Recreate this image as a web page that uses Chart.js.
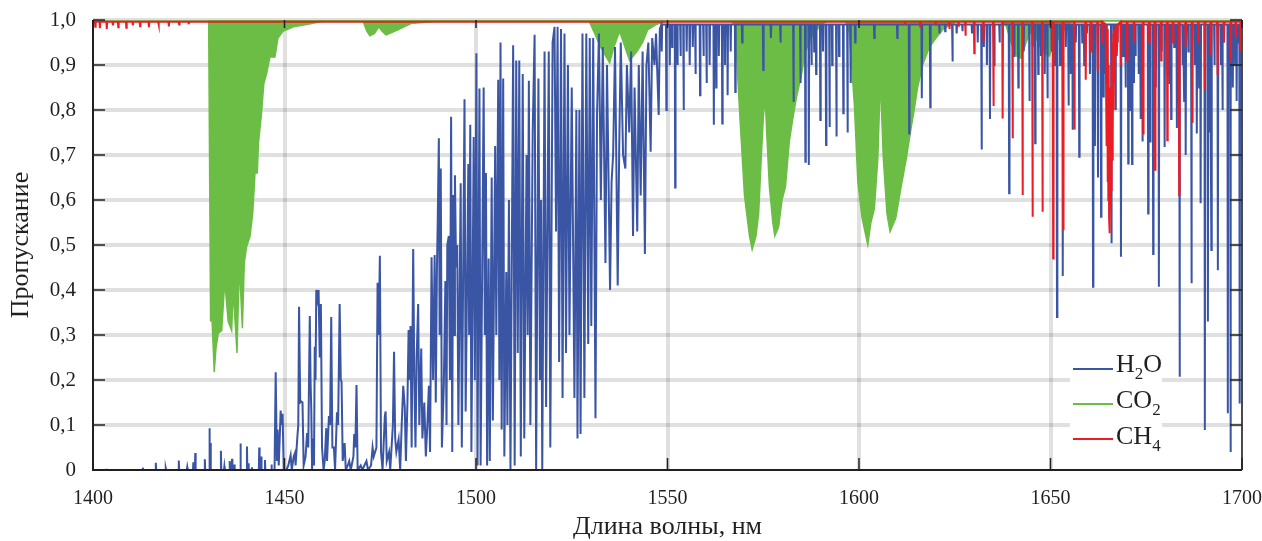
<!DOCTYPE html>
<html>
<head>
<meta charset="utf-8">
<script src="https://cdn.jsdelivr.net/npm/chart.js@4"></script>
<style>
  body { margin: 0; background: #fff; }
  #wrap { position: relative; width: 1262px; height: 541px; }
  #legend { position: absolute; left: 1070px; top: 350px; width: 92px; height: 100px; background: #fff;
            font-family: 'Liberation Serif', 'Times New Roman', serif; font-size: 26px; color: #231f20; }
  .row { position: absolute; left: 0; height: 26px; line-height: 26px; white-space: nowrap; }
  .sw { position: absolute; left: 3px; width: 40px; height: 2px; }
  .txt { position: absolute; left: 46px; top: 0; }
  sub { font-size: 17px; vertical-align: -7px; line-height: 0; }
</style>
</head>
<body>
<div id="wrap">
  <canvas id="chart"></canvas>
  <div id="legend">
    <div class="row" style="top:1px"><span class="sw" style="top:17px;background:#3a55a4"></span><span class="txt">H<sub>2</sub>O</span></div>
    <div class="row" style="top:37px"><span class="sw" style="top:16px;background:#6cbd45"></span><span class="txt">CO<sub>2</sub></span></div>
    <div class="row" style="top:73px"><span class="sw" style="top:15px;background:#ec1c24"></span><span class="txt">CH<sub>4</sub></span></div>
  </div>
</div>
<script>
var xTicks = [1400, 1450, 1500, 1550, 1600, 1650, 1700];
var yTicks = [0, 0.1, 0.2, 0.3, 0.4, 0.5, 0.6, 0.7, 0.8, 0.9, 1.0];

// H2O: weak lines rising from the opaque floor, 1400-1447 nm  [nm, T]
var h2oFloorLines = [[1403.5,0.003],[1413.0,0.005],[1416.4,0.016],[1419.0,0.004],[1422.4,0.021],[1424.6,0.006],
  [1426.2,0.017],[1426.7,0.038],[1429.2,0.024],[1430.4,0.093],[1430.7,0.06],[1433.4,0.043],[1434.3,0.008],
  [1435.7,0.02],[1436.3,0.025],[1436.9,0.012],[1438.5,0.059],[1440.2,0.052],[1440.6,0.015],[1441.5,0.006],
  [1443.4,0.05],[1443.9,0.03],[1444.9,0.022],[1446.6,0.012]];

// H2O: dense line forest, 1447-1548 nm, traced point by point  [nm, T]
var h2oForest = [[1447.4,0],[1447.7,0.217],[1448.0,0.02],[1448.2,0.09],[1448.5,0.01],[1449.0,0.132],[1449.2,0.1],
  [1449.5,0.125],[1449.8,0],[1450.5,0],[1451.0,0.01],[1451.6,0.033],[1451.9,0],[1452.4,0.03],[1452.7,0.037],
  [1452.9,0.01],[1453.3,0.067],[1453.6,0.1],[1453.8,0.363],[1454.1,0.15],[1454.4,0.152],[1454.7,0.15],[1455.0,0.01],
  [1455.5,0.03],[1455.9,0.082],[1456.2,0.05],[1456.6,0.342],[1456.8,0.2],[1457.0,0.13],[1457.2,0],[1457.5,0.07],
  [1457.7,0.01],[1457.9,0.274],[1458.1,0.2],[1458.3,0.40],[1458.6,0.38],[1458.9,0.40],[1459.2,0.25],[1459.5,0.369],
  [1459.8,0.05],[1460.2,0],[1460.5,0.02],[1460.9,0.093],[1461.1,0.02],[1461.6,0.12],[1461.9,0.1],[1462.2,0.34],
  [1462.5,0.05],[1462.9,0.05],[1463.2,0],[1463.7,0.128],[1464.0,0.1],[1464.4,0.369],[1464.7,0.2],[1464.9,0.196],
  [1465.2,0.02],[1465.7,0.06],[1466.0,0],[1466.5,0.01],[1466.9,0.02],[1467.3,0],[1468.0,0.03],[1468.2,0.08],
  [1468.5,0.05],[1468.8,0.189],[1469.1,0],[1469.9,0.01],[1470.3,0],[1471.4,0.02],[1471.8,0],[1472.6,0.01],
  [1473.0,0.05],[1473.3,0.03],[1474.0,0.05],[1474.3,0.416],[1474.6,0.3],[1474.9,0.476],[1475.2,0.04],[1475.6,0],
  [1476.2,0.12],[1476.4,0.13],[1476.7,0.02],[1477.3,0.04],[1477.6,0],[1478.3,0.10],[1478.6,0.263],[1478.9,0.07],
  [1479.2,0.04],[1479.8,0.068],[1480.2,0],[1480.6,0.1],[1481.0,0.187],[1481.4,0.14],[1481.7,0.02],[1482.1,0.15],
  [1482.4,0.311],[1482.7,0.2],[1482.9,0.32],[1483.2,0.05],[1483.6,0.491],[1483.9,0.2],[1484.2,0.05],[1484.5,0.25],
  [1484.9,0.369],[1485.2,0.1],[1485.7,0.27],[1486.0,0.07],[1486.5,0.15],[1486.9,0.03],[1487.3,0.1],[1487.7,0.187],
  [1488.0,0.04],[1488.4,0.473],[1488.8,0.2],[1489.2,0.478],[1489.5,0.15],[1489.8,0.45],[1490.0,0.548],[1490.3,0.737],
  [1490.5,0.3],[1490.8,0.67],[1491.1,0.05],[1491.6,0.19],[1492.0,0.42],[1492.3,0.1],[1492.5,0.5],[1492.9,0.52],
  [1493.2,0.2],[1493.5,0.785],[1493.8,0.04],[1494.0,0.611],[1494.3,0.3],[1494.5,0.655],[1494.8,0.45],[1495.1,0.50],
  [1495.4,0.1],[1496.0,0.637],[1496.3,0.05],[1497.0,0.824],[1497.3,0.13],[1498.0,0.68],[1498.2,0.3],[1498.5,0.767],
  [1498.8,0.04],[1499.4,0.74],[1499.7,0.2],[1500.1,0.926],[1500.4,0.01],[1500.9,0.848],[1501.2,0.01],[1502.0,0.85],
  [1502.3,0.3],[1502.6,0.66],[1502.9,0.01],[1503.3,0.47],[1503.6,0.02],[1504.1,0.65],[1504.4,0.11],[1505.0,0.72],
  [1505.3,0.3],[1505.8,0.867],[1506.1,0.2],[1506.4,0.95],[1506.7,0.09],[1507.1,0.87],[1507.4,0.03],[1507.9,0.44],
  [1508.2,0.1],[1508.6,0.6],[1509.0,0],[1509.7,0.944],[1510.1,0.01],[1510.5,0.91],[1510.9,0.26],[1511.3,0.91],
  [1511.7,0.03],[1512.2,0.88],[1512.6,0.07],[1513.2,0.7],[1513.5,0.3],[1513.8,0.865],[1514.2,0.10],[1514.8,0.75],
  [1515.3,0.967],[1515.7,0],[1516.3,0.87],[1516.7,0.2],[1517.0,0.6],[1517.3,0],[1517.9,0.93],[1518.3,0.14],
  [1519.0,0.93],[1519.4,0.05],[1520.0,0.95],[1520.5,0.985],[1520.9,0.53],[1521.3,0.985],[1521.7,0.24],[1522.2,0.98],
  [1522.6,0.16],[1523.1,0.97],[1523.5,0.26],[1524.0,0.9],[1524.4,0.3],[1525.0,0.85],[1525.7,0.16],[1526.2,0.8],
  [1526.5,0.07],[1527.0,0.8],[1527.3,0.08],[1527.8,0.97],[1528.3,0.16],[1528.8,0.97],[1529.3,0.28],[1529.7,0.96],
  [1530.1,0.32],[1530.6,0.96],[1531.2,0.115],[1531.6,0.79],[1532.1,0.97],[1532.6,0.6],[1533.1,0.94],[1533.8,0.46],
  [1534.2,0.9],[1535.0,0.40],[1535.4,0.64],[1535.8,0.7],[1536.3,0.94],[1537.0,0.41],[1537.4,0.72],[1537.8,0.95],
  [1538.4,0.7],[1539.0,0.67],[1539.4,0.9],[1540.0,0.75],[1540.5,0.93],[1541.0,0.52],[1541.4,0.85],[1542.1,0.53],
  [1542.5,0.9],[1543.0,0.61],[1543.5,0.93],[1544.1,0.48],[1544.5,0.9],[1545.0,0.95],[1545.6,0.707],[1546.0,0.96],
  [1546.6,0.9],[1547.0,0.97],[1547.7,0.789],[1548.0,0.98]];

// H2O: lines dipping from the clear baseline, 1548-1700 nm  [nm, T]
var h2oDips = [[1548.5,0.93],[1549.7,0.80],[1550.6,0.9],[1551.2,0.94],[1552.0,0.628],[1552.6,0.9],[1553.4,0.92],
  [1554.2,0.80],[1555.0,0.93],[1555.8,0.9],[1556.6,0.94],[1557.3,0.88],[1558.5,0.833],[1559.4,0.92],[1560.2,0.86],
  [1561.0,0.9],[1562.1,0.767],[1562.7,0.85],[1563.4,0.92],[1564.3,0.77],[1565.0,0.9],[1565.7,0.833],[1566.5,0.93],
  [1567.7,0.84],[1569.5,0.95],[1575.0,0.889],[1577.0,0.96],[1579.5,0.95],[1582.9,0.818],[1584.7,0.86],[1586.0,0.685],
  [1586.9,0.678],[1587.6,0.9],[1588.3,0.93],[1588.8,0.88],[1589.9,0.778],[1590.6,0.93],[1591.4,0.722],[1592.3,0.762],
  [1593.0,0.9],[1594.1,0.741],[1594.8,0.92],[1595.9,0.793],[1597.0,0.75],[1597.8,0.86],[1599.0,0.95],[1604.0,0.96],
  [1610.0,0.96],[1613.1,0.748],[1616.4,0.826],[1618.6,0.806],[1621.0,0.97],[1622.5,0.975],[1624.4,0.908],
  [1625.5,0.97],[1627.0,0.975],[1629.5,0.97],[1631.0,0.95],[1632.0,0.712],[1632.6,0.94],[1633.4,0.9],[1634.2,0.78],
  [1635.3,0.9],[1636.7,0.95],[1639.2,0.615],[1640.5,0.92],[1641.6,0.85],[1643.0,0.93],[1644.5,0.82],[1645.3,0.94],
  [1646.0,0.726],[1646.8,0.88],[1647.5,0.92],[1648.5,0.88],[1649.2,0.826],[1650.3,0.93],[1651.0,0.9],[1651.7,0.34],
  [1652.5,0.9],[1653.2,0.431],[1654.0,0.94],[1654.7,0.81],[1655.3,0.88],[1655.8,0.756],[1656.6,0.95],[1657.5,0.696],
  [1658.3,0.95],[1658.8,0.9],[1659.5,0.97],[1660.3,0.88],[1661.1,0.407],[1661.6,0.72],[1662.4,0.65],[1663.2,0.563],
  [1663.8,0.83],[1664.2,0.88],[1664.6,0.9],[1665.9,0.504],[1666.6,0.93],[1667.0,0.8],[1667.5,0.95],[1668.4,0.474],
  [1669.0,0.92],[1669.6,0.85],[1670.3,0.681],[1670.8,0.8],[1671.3,0.68],[1671.8,0.86],[1672.2,0.92],[1673.0,0.88],
  [1673.5,0.78],[1674.0,0.73],[1675.5,0.57],[1676.0,0.73],[1676.8,0.48],[1677.5,0.85],[1678.3,0.407],[1679.0,0.93],
  [1679.8,0.718],[1680.5,0.88],[1681.0,0.86],[1681.5,0.78],[1682.3,0.94],[1683.0,0.76],[1683.7,0.207],[1684.5,0.9],
  [1684.9,0.82],[1685.3,0.7],[1686.0,0.93],[1686.8,0.415],[1687.6,0.9],[1688.2,0.748],[1688.8,0.85],[1689.2,0.593],
  [1690.3,0.089],[1691.1,0.33],[1691.6,0.75],[1692.0,0.489],[1692.8,0.9],[1693.7,0.444],[1694.5,0.9],[1694.9,0.8],
  [1695.2,0.95],[1696.3,0.126],[1697.0,0.04],[1697.6,0.85],[1698.2,0.9],[1698.6,0.82],[1699.0,0.95],[1699.4,0.148],
  [1699.8,0.9]];

// CO2: lower edge of the absorption bands (filled up to T = 1)  [nm, T]
var co2Edge = [[1400,1],[1430.2,1],[1430.5,0.6],[1430.7,0.33],[1430.9,0.55],[1431.1,0.33],[1431.65,0.218],
  [1432.1,0.27],[1432.7,0.304],[1433.6,0.31],[1434.4,0.42],[1435.3,0.33],[1436.2,0.31],[1436.6,0.40],[1437.6,0.26],
  [1438.2,0.46],[1439.0,0.315],[1439.5,0.46],[1440.1,0.496],[1441.0,0.52],[1441.7,0.57],[1442.3,0.66],[1442.9,0.66],
  [1443.2,0.726],[1444.0,0.793],[1444.6,0.859],[1445.3,0.88],[1446.2,0.918],[1447.5,0.918],[1448.3,0.96],
  [1449.6,0.975],[1452.3,0.985],[1455.8,0.99],[1460,0.997],[1470.5,0.997],[1471.5,0.975],[1472.3,0.965],
  [1473.5,0.97],[1474.6,0.985],[1475.5,0.975],[1476.5,0.967],[1478,0.972],[1480,0.98],[1483,0.992],[1490,0.998],
  [1529.5,0.998],[1531,0.97],[1532.5,0.94],[1534.9,0.905],[1536,0.94],[1537.5,0.975],[1538.5,0.95],[1540.1,0.91],
  [1542,0.93],[1543.5,0.95],[1544.8,0.978],[1547,0.99],[1550,0.998],[1566.5,0.998],[1567.5,0.99],[1568.0,0.93],
  [1568.8,0.8],[1570.1,0.61],[1571.4,0.52],[1572.1,0.49],[1573.1,0.52],[1573.8,0.57],[1574.4,0.68],[1575.0,0.78],
  [1575.5,0.83],[1575.9,0.75],[1576.6,0.63],[1577.5,0.55],[1578.0,0.52],[1579.0,0.54],[1579.9,0.6],[1580.8,0.63],
  [1581.8,0.73],[1582.7,0.78],[1583.7,0.83],[1584.9,0.875],[1586.0,0.93],[1587.5,0.96],[1590,0.99],[1592,0.998],
  [1596.5,0.998],[1597.5,0.97],[1598.8,0.81],[1599.7,0.64],[1600.8,0.56],[1602.3,0.50],[1603.1,0.55],[1604.0,0.58],
  [1604.9,0.69],[1605.6,0.87],[1606.3,0.70],[1607.3,0.57],[1608.1,0.53],[1609.6,0.56],[1611.0,0.63],[1612.3,0.69],
  [1613.6,0.76],[1614.4,0.80],[1615.3,0.85],[1616.6,0.90],[1618.4,0.94],[1620.1,0.96],[1622,0.98],[1624,0.99],
  [1626,0.998],[1637.5,0.998],[1638.5,0.985],[1639.7,0.95],[1641.1,0.92],[1642.3,0.915],[1643.6,0.95],
  [1644.9,0.975],[1646.2,0.96],[1647.9,0.93],[1649.7,0.92],[1651.0,0.95],[1652.3,0.96],[1654.0,0.985],
  [1656,0.998],[1700,0.998]];

// CH4: single lines dipping from the baseline  [nm, T]
var ch4Dips = [[1400.6,0.985],[1401.8,0.982],[1403.6,0.98],[1405.2,0.988],[1406.6,0.984],[1408.7,0.983],
  [1410.4,0.988],[1412.3,0.986],[1414.6,0.984],[1417.1,0.99],[1419.8,0.986],[1422.5,0.99],[1425.0,0.991],
  [1612.0,0.99],[1616.0,0.985],[1620.0,0.988],[1623.6,0.98],[1626.0,0.985],[1627.8,0.965],[1630.1,0.926],
  [1632.5,0.95],[1635.1,0.809],[1637.5,0.781],[1640.1,0.737],[1642.7,0.611],[1645.3,0.563],[1647.9,0.574],
  [1650.7,0.47],[1653.3,0.535],[1656.2,0.759],[1659.2,0.867],[1660.6,0.93],[1662.3,0.885],[1663.5,0.95],
  [1668.4,0.9],[1670.0,0.91],[1671.8,0.95],[1674.2,0.748],[1675.8,0.95],[1677.3,0.667],[1678.9,0.91],
  [1680.5,0.733],[1682.0,0.95],[1683.6,0.611],[1685.3,0.94],[1687.0,0.774],[1688.6,0.95],[1690.3,0.844],
  [1691.9,0.92],[1693.6,0.878],[1695.3,0.95],[1697.1,0.908],[1698.4,0.96],[1699.7,0.93]];

// CH4: Q-branch near 1666 nm, traced point by point  [nm, T]
var ch4QBranch = [[1664.4,0.99],[1664.5,0.86],[1664.6,0.99],[1664.7,0.72],[1664.8,0.98],[1664.9,0.64],[1665.0,0.97],
  [1665.1,0.60],[1665.2,0.9],[1665.3,0.56],[1665.4,0.85],[1665.5,0.526],[1665.6,0.8],[1665.7,0.58],[1665.8,0.85],
  [1665.9,0.62],[1666.0,0.9],[1666.1,0.69],[1666.2,0.95],[1666.3,0.75],[1666.4,0.97],[1666.5,0.8],[1666.6,0.98],
  [1666.8,0.86],[1667.0,0.99],[1667.3,0.92],[1667.6,0.99]];

var h2oFloor = 0, h2oTop = 0.99, ch4Top = 0.996;

function spikes(list, base, half) {
  var out = [];
  list.forEach(function (p) {
    out.push({x: p[0] - half, y: base}, {x: p[0], y: p[1]}, {x: p[0] + half, y: base});
  });
  return out;
}
function pts(list) { return list.map(function (p) { return {x: p[0], y: p[1]}; }); }
function byX(a, b) { return a.x - b.x; }

var h2oData = [{x: 1400, y: h2oFloor}]
  .concat(spikes(h2oFloorLines, h2oFloor, 0.1))
  .concat(pts(h2oForest))
  .concat(spikes(h2oDips, h2oTop, 0.1).concat([{x: 1700, y: h2oTop}]).sort(byX));

var ch4Data = [{x: 1400, y: ch4Top}, {x: 1700, y: ch4Top}]
  .concat(spikes(ch4Dips, ch4Top, 0.1))
  .concat(pts(ch4QBranch))
  .sort(byX);

var co2Data = pts(co2Edge);

var ink = '#231f20';
var serif = "'Liberation Serif', 'Times New Roman', serif";

var frame = {
  id: 'frame',
  afterDatasetsDraw: function (chart) {
    var ctx = chart.ctx, a = chart.chartArea, x = chart.scales.x, y = chart.scales.y;
    ctx.save();
    ctx.strokeStyle = ink;
    ctx.lineWidth = 2;
    ctx.beginPath();
    ctx.moveTo(a.left, a.top); ctx.lineTo(a.left, a.bottom); ctx.lineTo(a.right, a.bottom);
    ctx.stroke();
    ctx.strokeStyle = '#4a4a4a';
    ctx.beginPath();
    ctx.moveTo(a.right, a.bottom); ctx.lineTo(a.right, a.top);
    ctx.stroke();
    ctx.strokeStyle = ink;
    ctx.lineWidth = 1.5;
    ctx.beginPath();
    yTicks.forEach(function (v) {
      var py = y.getPixelForValue(v);
      ctx.moveTo(a.left, py); ctx.lineTo(a.left + 12, py);
      ctx.moveTo(a.right, py); ctx.lineTo(a.right - 12, py);
    });
    xTicks.forEach(function (v) {
      var px = x.getPixelForValue(v);
      ctx.moveTo(px, a.bottom); ctx.lineTo(px, a.bottom - 12);
      ctx.moveTo(px, a.top); ctx.lineTo(px, a.top + 8);
    });
    ctx.stroke();
    ctx.restore();
  }
};

var gridColor = 'rgba(0,0,0,0.12)';

new Chart(document.getElementById('chart').getContext('2d'), {
  type: 'line',
  data: {
    datasets: [{
      label: 'H2O',
      data: h2oData,
      borderColor: '#3a55a4',
      borderWidth: 2,
      order: 1
    }, {
      label: 'CO2',
      data: co2Data,
      borderColor: '#6cbd45',
      backgroundColor: '#6cbd45',
      borderWidth: 1.5,
      fill: 'end',
      order: 2
    }, {
      label: 'CH4',
      data: ch4Data,
      borderColor: '#ec1c24',
      borderWidth: 2,
      order: 0
    }]
  },
  options: {
    responsive: true,
    maintainAspectRatio: false,
    animation: false,
    parsing: false,
    elements: { point: { radius: 0 }, line: { tension: 0 } },
    layout: { padding: { left: 0, right: 20, top: 20, bottom: 0 } },
    plugins: { legend: { display: false }, tooltip: { enabled: false } },
    scales: {
      x: {
        type: 'linear',
        min: 1400,
        max: 1700,
        afterBuildTicks: function (s) { s.ticks = xTicks.map(function (v) { return {value: v}; }); },
        afterFit: function (s) { s.height = 71; s.paddingLeft = 0; s.paddingRight = 0; },
        ticks: {
          callback: function (v) { return String(v); },
          font: { family: serif, size: 20 },
          color: ink,
          padding: 17,
          maxRotation: 0
        },
        grid: {
          lineWidth: 4,
          drawTicks: false,
          color: function (c) { return (c.tick && (c.tick.value === 1400 || c.tick.value === 1700)) ? 'rgba(0,0,0,0)' : gridColor; }
        },
        border: { display: false },
        title: {
          display: true,
          text: 'Длина волны, нм',
          font: { family: serif, size: 26, lineHeight: 1.1 },
          color: ink,
          padding: { top: 0, bottom: 0 }
        }
      },
      y: {
        min: 0,
        max: 1,
        afterBuildTicks: function (s) { s.ticks = yTicks.map(function (v) { return {value: v}; }); },
        afterFit: function (s) { s.width = 93; s.paddingTop = 0; s.paddingBottom = 0; },
        ticks: {
          callback: function (v) { return v === 0 ? '0' : v.toFixed(1).replace('.', ','); },
          font: { family: serif, size: 21 },
          color: ink,
          padding: 17
        },
        grid: {
          lineWidth: 4,
          drawTicks: false,
          color: function (c) { return (c.tick && c.tick.value === 0) ? 'rgba(0,0,0,0)' : gridColor; }
        },
        border: { display: false },
        title: {
          display: true,
          text: 'Пропускание',
          font: { family: serif, size: 26, lineHeight: 1.1 },
          color: ink,
          padding: { top: 7, bottom: 0 }
        }
      }
    }
  },
  plugins: [frame]
});
</script>
</body>
</html>
